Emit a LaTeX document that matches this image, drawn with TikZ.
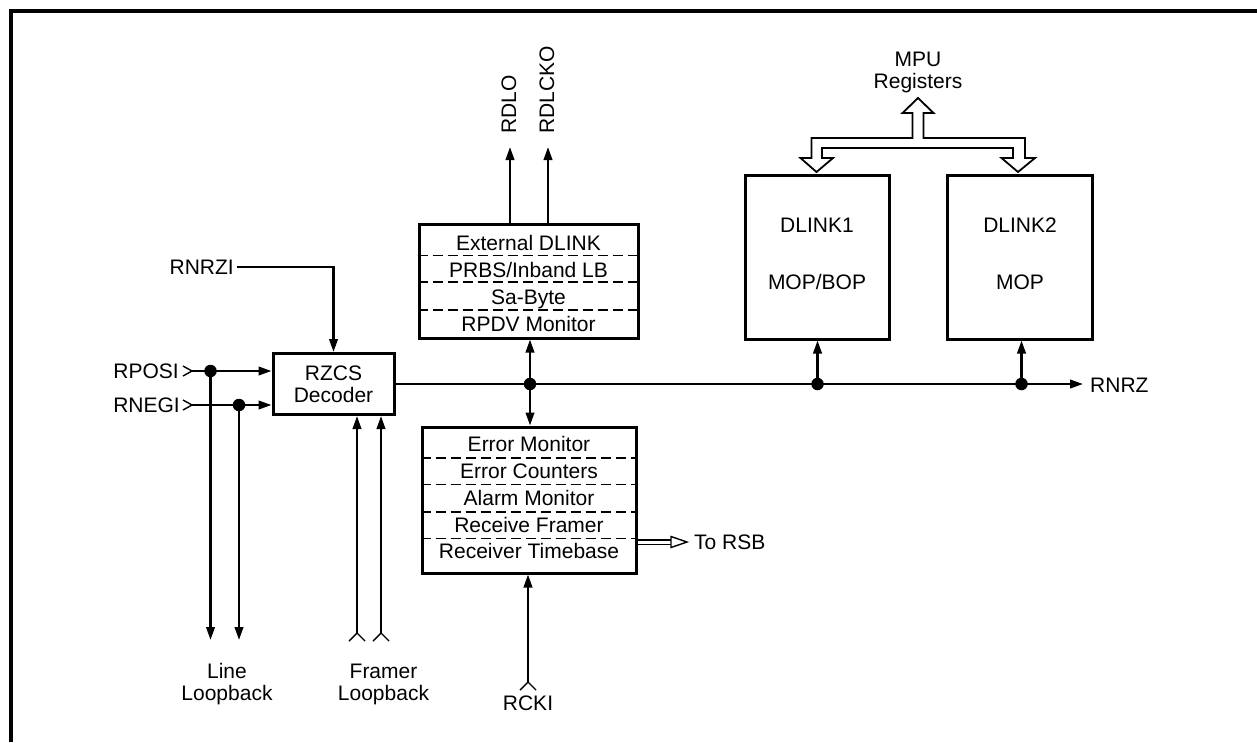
\documentclass[tikz,border=0pt]{standalone}
\usepackage{fontspec}
\setmainfont{Liberation Sans}
\usetikzlibrary{arrows.meta}
\begin{document}
\begin{tikzpicture}[x=1pt,y=-1pt,
  every node/.style={font=\fontsize{21}{22}\selectfont, inner sep=0pt},
  blk/.style={draw, line width=3pt},
  conn/.style={line width=2.3pt},
  tip/.tip={Triangle[length=13pt,width=8.5pt]},
  arr/.style={conn, -tip},
  divider/.style={line width=1.8pt, dash pattern=on 10pt off 5pt},
  chev/.style={line width=1.4pt},
  row/.style={anchor=base},
  dot/.style={circle, fill=black, minimum size=12.5pt, inner sep=0pt}
]
\useasboundingbox (0,0) rectangle (1257,742);
% frame
\draw[line width=3.2pt] (11,742) -- (11,11) -- (1257,11);

% blocks
\node[blk, minimum width=121pt, minimum height=61pt, align=center] (rzcs) at (333.5,384) {RZCS\\Decoder};
\node[blk, minimum width=219pt, minimum height=114pt] (ext) at (528.5,281) {};
\node[blk, minimum width=214pt, minimum height=146pt] (err) at (529,500) {};
\node[blk, minimum width=144pt, minimum height=164pt] (dl1) at (817,257) {};
\node[blk, minimum width=145pt, minimum height=164pt] (dl2) at (1019.5,257) {};

% rows of ext
\node[row] (e1) at (528.5,250.5) {External DLINK};
\node[row] (e2) at (528.5,277.5) {PRBS/Inband LB};
\node[row] (e3) at (528.5,304) {Sa-Byte};
\node[row] (e4) at (528.5,331) {RPDV Monitor};
\draw[divider] (ext.west |- 0,255.5) -- (ext.east |- 0,255.5);
\draw[divider] (ext.west |- 0,282) -- (ext.east |- 0,282);
\draw[divider] (ext.west |- 0,310) -- (ext.east |- 0,310);

% rows of err
\node[row] (r1) at (529,451) {Error Monitor};
\node[row] (r2) at (529,478) {Error Counters};
\node[row] (r3) at (529,505.5) {Alarm Monitor};
\node[row] (r4) at (529,532) {Receive Framer};
\node[row] (r5) at (529,558.5) {Receiver Timebase};
\draw[divider] (err.west |- 0,458) -- (err.east |- 0,458);
\draw[divider] (err.west |- 0,484.5) -- (err.east |- 0,484.5);
\draw[divider] (err.west |- 0,512) -- (err.east |- 0,512);
\draw[divider] (err.west |- 0,538.5) -- (err.east |- 0,538.5);

% DLINK texts
\node (d1a) at (817,225) {DLINK1};
\node (d1b) at (817,282) {MOP/BOP};
\node (d2a) at (1020,225) {DLINK2};
\node (d2b) at (1020,282) {MOP};

% MPU registers and hollow bus
\node[align=center] (mpu) at (918,72.5) {MPU\\Registers};
\draw[line width=1.8pt, fill=white, line join=miter] (918,98) -- (933.5,113) -- (923.5,113) -- (923.5,138) -- (1025,138) -- (1025,158)
  -- (1035,158) -- (1018,172) -- (1001.5,158) -- (1013,158) -- (1013,148) -- (822,148) -- (822,158)
  -- (833,158) -- (816.5,172) -- (800.5,158) -- (811.5,158) -- (811.5,138) -- (912.5,138) -- (912.5,113)
  -- (902.5,113) -- cycle;

% inputs
\node[anchor=east] (rposi) at (179,371) {RPOSI};
\node[anchor=east] (rnegi) at (180,405) {RNEGI};
\coordinate (pin) at (192,371);
\coordinate (nin) at (192,405);
\draw[chev] (183,366) -- (pin) -- (183,376);
\draw[chev] (183,400) -- (nin) -- (183,410);
\draw[arr] (pin) -- (rzcs.west |- pin);
\draw[arr] (nin) -- (rzcs.west |- nin);
\node[dot] (jp) at (210.5,371) {};
\node[dot] (jn) at (239,405) {};
\coordinate (ll1) at (210.5,640);
\coordinate (ll2) at (239,640);
\draw[arr] (jp.center) -- (ll1);
\draw[arr] (jn.center) -- (ll2);
\node[align=center] (lineLB) at (227,684) {Line\\Loopback};

% framer loopback
\coordinate (fl1) at (357,633);
\coordinate (fl2) at (381,633);
\draw[chev] (349,641) -- (fl1) -- (365,641);
\draw[chev] (373,641) -- (fl2) -- (389,641);
\draw[arr] (fl1) -- (fl1 |- rzcs.south);
\draw[arr] (fl2) -- (fl2 |- rzcs.south);
\node[align=center] (frLB) at (383.5,684) {Framer\\Loopback};

% RNRZI
\node[anchor=east] (rnrzi) at (234,267) {RNRZI};
\draw[arr] (rnrzi.east) ++(3,0) -| (rzcs.north);

% main bus
\coordinate (busR) at (1083,384);
\draw[arr] (rzcs.east |- busR) -- (busR);
\node[anchor=west] (rnrz) at (1090,385) {RNRZ};
\node[dot] (j0) at (530,384) {};
\node[dot] (j1) at (817.5,384) {};
\node[dot] (j2) at (1021.5,384) {};
\draw[arr] (j0.center) -- (j0.center |- ext.south);
\draw[arr] (j0.center) -- (j0.center |- err.north);
\draw[arr] (j1.center) -- (j1.center |- dl1.south);
\draw[arr] (j2.center) -- (j2.center |- dl2.south);

% RDLO / RDLCKO
\coordinate (o1) at (510,147);
\coordinate (o2) at (548,147);
\draw[arr] (o1 |- ext.north) -- (o1);
\draw[arr] (o2 |- ext.north) -- (o2);
\node[rotate=90, anchor=west] (rdlo) at (509,134) {RDLO};
\node[rotate=90, anchor=west] (rdlcko) at (547,134) {RDLCKO};

% RCKI
\coordinate (ck) at (528,682);
\draw[chev] (520,690) -- (ck) -- (536,690);
\draw[arr] (ck) -- (ck |- err.south);
\node (rcki) at (528,703) {RCKI};

% To RSB
\coordinate (rsb) at (687,542);
\draw[line width=1.4pt] (err.east |- 0,540) -- (672,540);
\draw[line width=1.4pt] (err.east |- 0,544.5) -- (672,544.5);
\draw[line width=1.4pt, fill=white, line join=miter] (671,536.5) -- (rsb) -- (671,547.5) -- cycle;
\node[anchor=west] (torsb) at (694,542) {To RSB};
\end{tikzpicture}
\end{document}
